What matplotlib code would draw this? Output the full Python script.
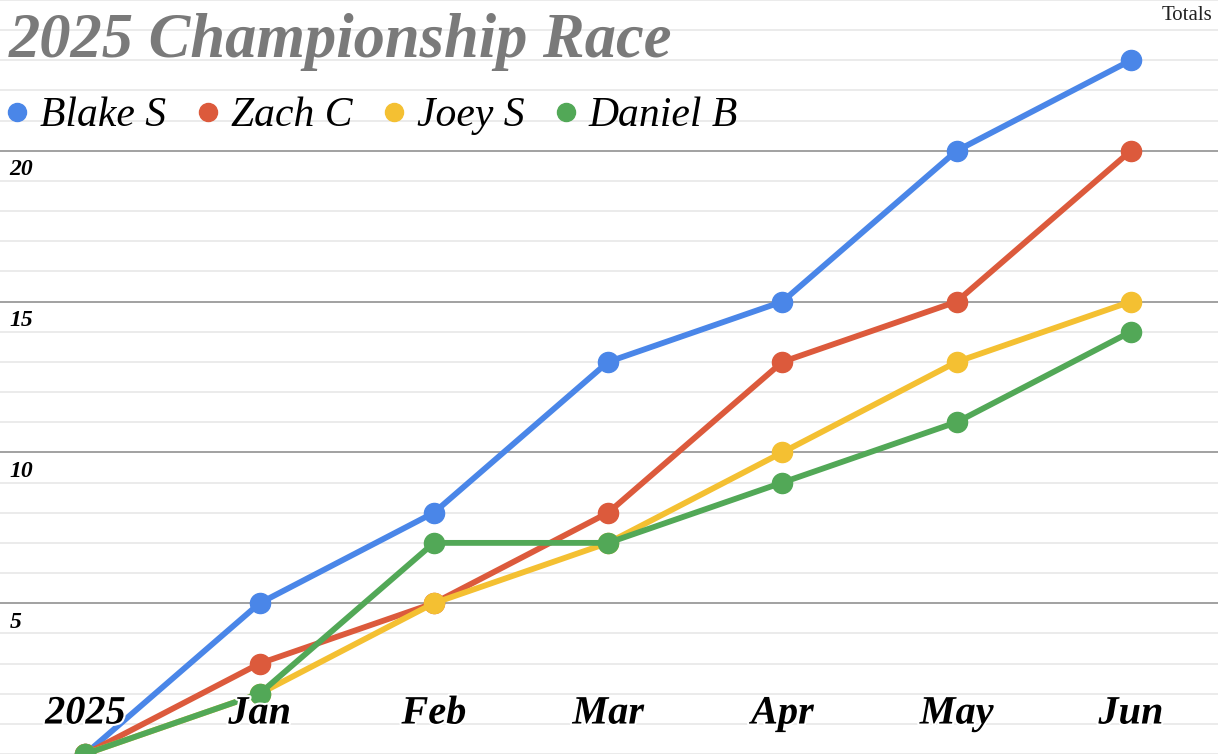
import matplotlib
matplotlib.use("Agg")
import matplotlib.pyplot as plt
from matplotlib.lines import Line2D
import matplotlib.patheffects as pe
import matplotlib.transforms as mtrans

categories = ["2025", "Jan", "Feb", "Mar", "Apr", "May", "Jun"]
blake = [0, 5, 8, 13, 15, 20, 23]
zach = [0, 3, 5, 8, 13, 15, 20]
joey = [0, 2, 5, 7, 10, 13, 15]
daniel = [0, 2, 7, 7, 9, 11, 14]
series_names = ["Blake S", "Zach C", "Joey S", "Daniel B"]
series_colors = ["#4a86e8", "#dc5a3c", "#f4c032", "#52a857"]
y_major = [5, 10, 15, 20]
y_minor = list(range(0, 26))

SERIF = ["Liberation Serif", "DejaVu Serif"]

fig = plt.figure(figsize=(12.18, 7.54), dpi=100)
ax = fig.add_axes([0, 0, 1, 1])
ax.set_xlim(-0.49, 6.5)
ax.set_ylim(0, 25)
for s in ax.spines.values():
    s.set_visible(False)
ax.set_axisbelow(True)

ax.set_yticks(y_minor, minor=True)
ax.set_yticks(y_major)
ax.grid(which="minor", axis="y", color="#e8e8e8", linewidth=1.2)
ax.grid(which="major", axis="y", color="#9a9a9a", linewidth=1.3)
ax.tick_params(axis="both", which="both", length=0)
ax.set_yticklabels([str(v) for v in y_major], fontfamily=SERIF,
                   fontweight="bold", fontstyle="italic", fontsize=17)
for lab in ax.get_yticklabels():
    lab.set_ha("left")
    lab.set_va("top")
ax.tick_params(axis="y", pad=-7)
for lab in ax.get_yticklabels():
    lab.set_transform(lab.get_transform() + mtrans.ScaledTranslation(0, -6/72, fig.dpi_scale_trans))

ax.set_xticks([])

xs = list(range(len(categories)))
for vals, c in zip([blake, zach, joey, daniel], series_colors):
    ax.plot(xs, vals, color=c, linewidth=4.2, marker="o", markersize=14.5,
            solid_capstyle="round", zorder=3, clip_on=False)

for i, cat in enumerate(categories):
    ax.text(i, 0.053, cat, transform=ax.get_xaxis_transform(), ha="center",
            va="center", fontfamily=SERIF, fontweight="bold", fontstyle="italic",
            fontsize=29, color="black", zorder=5,
            path_effects=[pe.withStroke(linewidth=3, foreground="white")])

fig.text(0.007, 0.944, "2025 Championship Race", ha="left", va="center",
         fontfamily=SERIF, fontweight="bold", fontstyle="italic", fontsize=45,
         color="#7a7a7a")
fig.text(0.995, 0.98, "Totals", ha="right", va="center", fontfamily=SERIF,
         fontsize=15, color="#222222")

handles = [Line2D([], [], marker="o", linestyle="none", color=c, markersize=13)
           for c in series_colors]
leg = ax.legend(handles, series_names, ncol=4, loc="center left",
                bbox_to_anchor=(-0.0186, 0.846), frameon=False,
                prop={"family": SERIF, "style": "italic", "size": 30},
                handletextpad=0.0, columnspacing=0.45, handlelength=1.1,
                borderaxespad=0)

fig.savefig("out.png", dpi=100)
